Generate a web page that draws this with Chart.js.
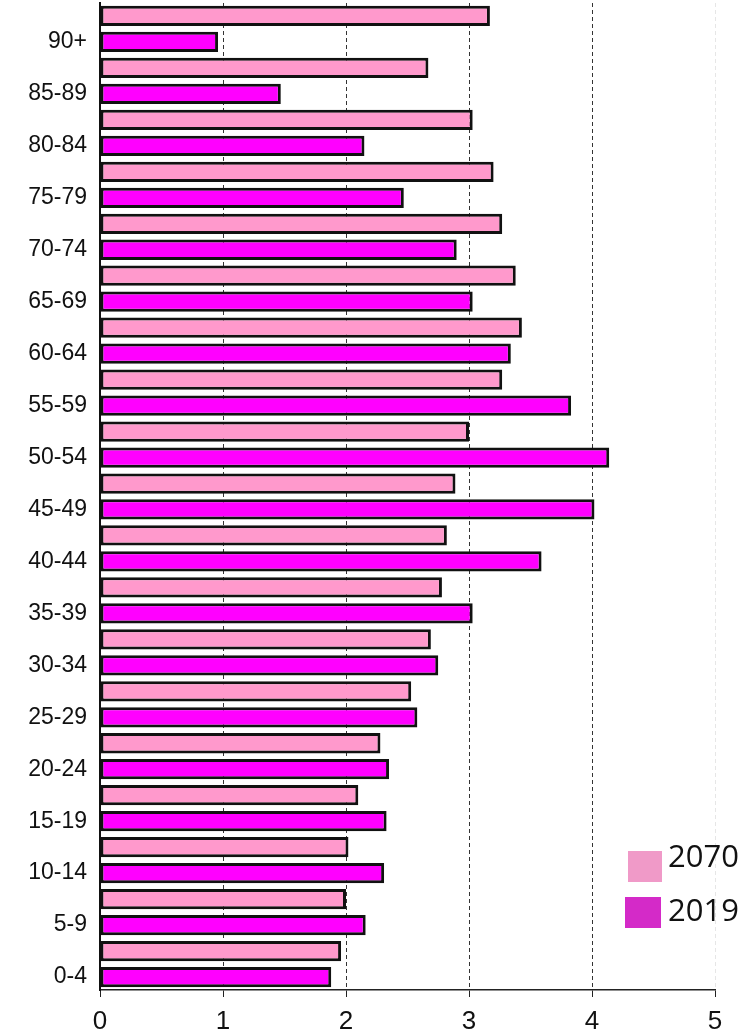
<!DOCTYPE html>
<html>
<head>
<meta charset="utf-8">
<script src="https://cdn.jsdelivr.net/npm/chart.js@4.4.0/dist/chart.umd.min.js"></script>
<style>
  html, body { margin: 0; padding: 0; background: #fff; }
  #wrap { position: relative; width: 749px; height: 1033px; }
  #c { display: block; }
  #legend { position: absolute; left: 0; top: 0; width: 749px; height: 1033px; pointer-events: none;
            font-family: "Open Sans", sans-serif; font-size: 31px; color: #111; }
  .sw { position: absolute; width: 34px; height: 31px; }
  .lt { position: absolute; line-height: 1; }
</style>
</head>
<body>
<div id="wrap">
  <canvas id="c" width="749" height="1033"></canvas>
  <div id="legend">
    <div class="sw" style="left:628px;top:851px;background:#f09ac8;"></div>
    <div class="lt" style="left:668px;top:840px;">2070</div>
    <div class="sw" style="left:625px;top:897px;background:#d42ac8;width:36px;"></div>
    <div class="lt" style="left:668px;top:894px;">2019</div>
  </div>
</div>
<script>
const ageGroups = ['90+', '85-89', '80-84', '75-79', '70-74', '65-69', '60-64', '55-59', '50-54',
                   '45-49', '40-44', '35-39', '30-34', '25-29', '20-24', '15-19', '10-14', '5-9', '0-4'];
const values2070 = [3.17, 2.67, 3.03, 3.20, 3.27, 3.38, 3.43, 3.27, 3.00,
                    2.89, 2.82, 2.78, 2.69, 2.53, 2.28, 2.10, 2.02, 2.00, 1.96];
const values2019 = [0.96, 1.47, 2.15, 2.47, 2.90, 3.03, 3.34, 3.83, 4.14,
                    4.02, 3.59, 3.03, 2.75, 2.58, 2.35, 2.33, 2.31, 2.16, 1.88];
const xTicks = [0, 1, 2, 3, 4, 5];

new Chart(document.getElementById('c'), {
  type: 'bar',
  data: {
    labels: ageGroups,
    datasets: [
      { label: '2070', data: values2070, backgroundColor: '#ff99cc', borderColor: '#111',
        borderWidth: 3, borderSkipped: false, categoryPercentage: 1.0, barPercentage: 0.78 },
      { label: '2019', data: values2019, backgroundColor: '#ff00ff', borderColor: '#111',
        borderWidth: 3, borderSkipped: false, categoryPercentage: 1.0, barPercentage: 0.78 }
    ]
  },
  options: {
    indexAxis: 'y',
    responsive: false,
    animation: false,
    devicePixelRatio: 1,
    layout: { padding: { top: 3, right: 34, left: 0, bottom: 0 } },
    plugins: { legend: { display: false }, tooltip: { enabled: false } },
    scales: {
      x: {
        type: 'linear', min: xTicks[0], max: xTicks[xTicks.length - 1],
        afterBuildTicks: s => { s.ticks = xTicks.map(v => ({ value: v })); },
        afterFit: s => { s.height = 43; },
        grid: {
          color: c => (c.tick && c.tick.value === 5) ? '#e6e6e6' : '#333',
          lineWidth: 1, tickLength: 7, tickColor: '#222', drawTicks: true
        },
        border: { display: true, color: '#222', width: 1.5, dash: [4, 3] },
        ticks: { color: '#111', padding: 9, font: { family: "'Liberation Sans', Arial, sans-serif", size: 26 } }
      },
      y: {
        afterFit: s => { s.width = 100; s.paddingTop = 0; s.paddingBottom = 0; },
        grid: { display: false, drawTicks: false },
        border: { display: true, color: '#111', width: 2 },
        ticks: { color: '#111', padding: 13, labelOffset: 13,
                 font: { family: "'Liberation Sans', Arial, sans-serif", size: 23 } }
      }
    }
  }
});
</script>
</body>
</html>
